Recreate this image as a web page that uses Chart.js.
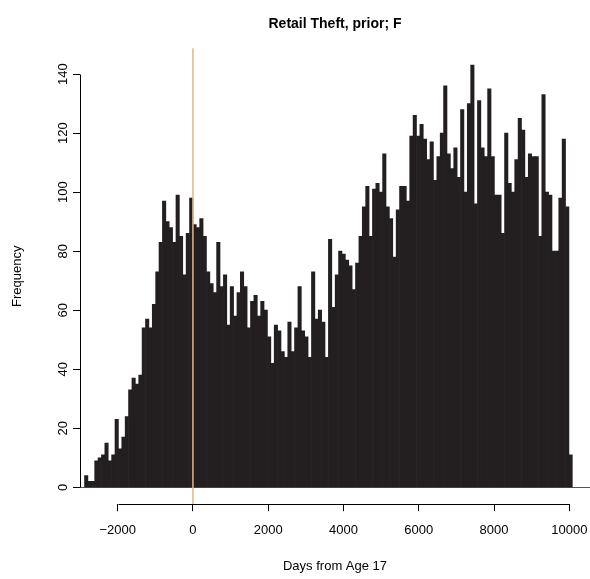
<!DOCTYPE html>
<html>
<head>
<meta charset="utf-8">
<script src="https://cdn.jsdelivr.net/npm/chart.js@4"></script>
<style>
    body { margin: 0; background: #fff; }
    canvas { display: block; }
</style>
</head>
<body>
<canvas id="theft-hist" width="590" height="579"></canvas>
<script>
// 90-day bins, the first one starting 2880 days before age 17
const binStart = -2880;
const binWidth = 90;

// counts for the bins before age 17
const countsBefore = [4, 2, 2, 9, 10, 11, 15, 9, 11, 23, 13, 17, 24, 33, 37, 35,
    38, 54, 57, 54, 62, 73, 83, 97, 90, 88, 83, 99, 85, 72, 86, 98];

// counts for the bins from age 17 on
const countsAfter = [89, 88, 91, 85, 73, 69, 66, 83, 68, 72, 55, 68, 58, 66, 73, 68,
    54, 63, 65, 58, 63, 60, 51, 42, 55, 53, 46, 44, 56, 46, 54, 68,
    53, 51, 44, 73, 57, 60, 56, 44, 84, 61, 72, 80, 79, 77, 75, 67,
    76, 85, 95, 102, 85, 101, 103, 100, 113, 95, 91, 78, 94, 102, 102, 97,
    119, 126, 119, 123, 118, 111, 117, 104, 112, 120, 136, 113, 108, 115, 105, 128,
    100, 130, 143, 96, 131, 115, 112, 135, 112, 99, 99, 86, 120, 103, 100, 111,
    125, 121, 105, 113, 112, 112, 85, 133, 100, 99, 80, 80, 98, 118, 95, 11];

const xTicks = [-2000, 0, 2000, 4000, 6000, 8000, 10000];
const yTicks = [0, 20, 40, 60, 80, 100, 120, 140];
const markerDay = 0;

const FONT = "'Liberation Sans', Arial, Helvetica, sans-serif";
const INK = '#000000';

function minusSign(v) {
    return v < 0 ? '\u2212' + Math.abs(v) : String(v);
}

// R style axes: lines only between the outer ticks, rotated y labels,
// plus the zero line and the vertical marker at age 17
const histAxes = {
    id: 'histAxes',
    beforeDatasetsDraw(chart) {
        const { ctx, chartArea, scales: { y } } = chart;
        const y0 = Math.round(y.getPixelForValue(0)) + 0.5;
        ctx.save();
        ctx.strokeStyle = '#555555';
        ctx.lineWidth = 1;
        ctx.beginPath();
        ctx.moveTo(chartArea.left, y0);
        ctx.lineTo(chartArea.right, y0);
        ctx.stroke();
        ctx.restore();
    },
    afterDatasetsDraw(chart) {
        const { ctx, chartArea, scales: { x, y } } = chart;
        ctx.save();

        const xm = x.getPixelForValue(markerDay);
        ctx.strokeStyle = '#deb887';
        ctx.lineWidth = 1.5;
        ctx.beginPath();
        ctx.moveTo(xm, chartArea.top);
        ctx.lineTo(xm, chartArea.bottom);
        ctx.stroke();

        ctx.strokeStyle = INK;
        ctx.lineWidth = 1;

        const ax = Math.round(chartArea.left - 0.5) + 0.5;
        ctx.beginPath();
        ctx.moveTo(ax, Math.round(y.getPixelForValue(yTicks[0])) + 0.5);
        ctx.lineTo(ax, Math.round(y.getPixelForValue(yTicks[yTicks.length - 1])) + 0.5);
        ctx.stroke();

        const ay = Math.round(chartArea.bottom - 0.5) + 0.5;
        ctx.beginPath();
        ctx.moveTo(Math.round(x.getPixelForValue(xTicks[0])) + 0.5, ay);
        ctx.lineTo(Math.round(x.getPixelForValue(xTicks[xTicks.length - 1])) + 0.5, ay);
        ctx.stroke();

        ctx.fillStyle = INK;
        ctx.font = '13px ' + FONT;
        ctx.textAlign = 'center';
        ctx.textBaseline = 'alphabetic';
        for (const v of yTicks) {
            ctx.save();
            ctx.translate(chartArea.left - 13, y.getPixelForValue(v));
            ctx.rotate(-Math.PI / 2);
            ctx.fillText(String(v), 0, 0);
            ctx.restore();
        }
        ctx.restore();
    }
};

function drawHistogram() {
    const canvas = document.getElementById('theft-hist');
    if (!canvas) {
        console.error('Canvas Element was not found!');
        return;
    }

    const ctx = canvas.getContext('2d');
    const counts = countsBefore.concat(countsAfter);
    const points = counts.map((c, i) => ({ x: binStart + binWidth * i + binWidth / 2, y: c }));

    new Chart(ctx, {
        type: 'bar',
        data: {
            datasets: [{
                label: 'Frequency',
                data: points,
                backgroundColor: '#231f20',
                borderWidth: 0,
                barPercentage: 1,
                categoryPercentage: 1
            }]
        },
        options: {
            responsive: false,
            animation: false,
            layout: { padding: 0 },
            plugins: {
                legend: { display: false },
                tooltip: { enabled: false },
                title: {
                    display: true,
                    text: 'Retail Theft, prior; F',
                    fullSize: false,
                    color: INK,
                    font: { family: FONT, size: 14, weight: 'bold' },
                    padding: { top: 15.6, bottom: 15.9 }
                }
            },
            scales: {
                x: {
                    type: 'linear',
                    min: -3000,
                    max: 10550,
                    offset: false,
                    afterFit: (s) => {
                        s.height = 74.8;
                        // keep the plot running to the right edge
                        s.paddingLeft = 0;
                        s.paddingRight = 0;
                    },
                    afterBuildTicks: (s) => { s.ticks = xTicks.map(v => ({ value: v })); },
                    border: { display: false },
                    grid: {
                        offset: false,
                        drawOnChartArea: false,
                        drawTicks: true,
                        tickLength: 7,
                        color: INK
                    },
                    ticks: {
                        color: INK,
                        font: { family: FONT, size: 13 },
                        padding: 11,
                        maxRotation: 0,
                        autoSkip: false,
                        callback: (v) => minusSign(v)
                    },
                    title: {
                        display: true,
                        text: 'Days from Age 17',
                        color: INK,
                        font: { family: FONT, size: 13 },
                        padding: { top: 0, bottom: 5 }
                    }
                },
                y: {
                    min: -5.72,
                    max: 148.72,
                    afterFit: (s) => { s.width = 80; },
                    afterBuildTicks: (s) => { s.ticks = yTicks.map(v => ({ value: v })); },
                    border: { display: false },
                    grid: {
                        drawOnChartArea: false,
                        drawTicks: true,
                        tickLength: 7,
                        color: INK
                    },
                    ticks: { display: false },
                    title: {
                        display: true,
                        text: 'Frequency',
                        color: INK,
                        font: { family: FONT, size: 13 },
                        padding: { top: 10, bottom: 0 }
                    }
                }
            }
        },
        plugins: [histAxes]
    });
}

drawHistogram();
</script>
</body>
</html>
